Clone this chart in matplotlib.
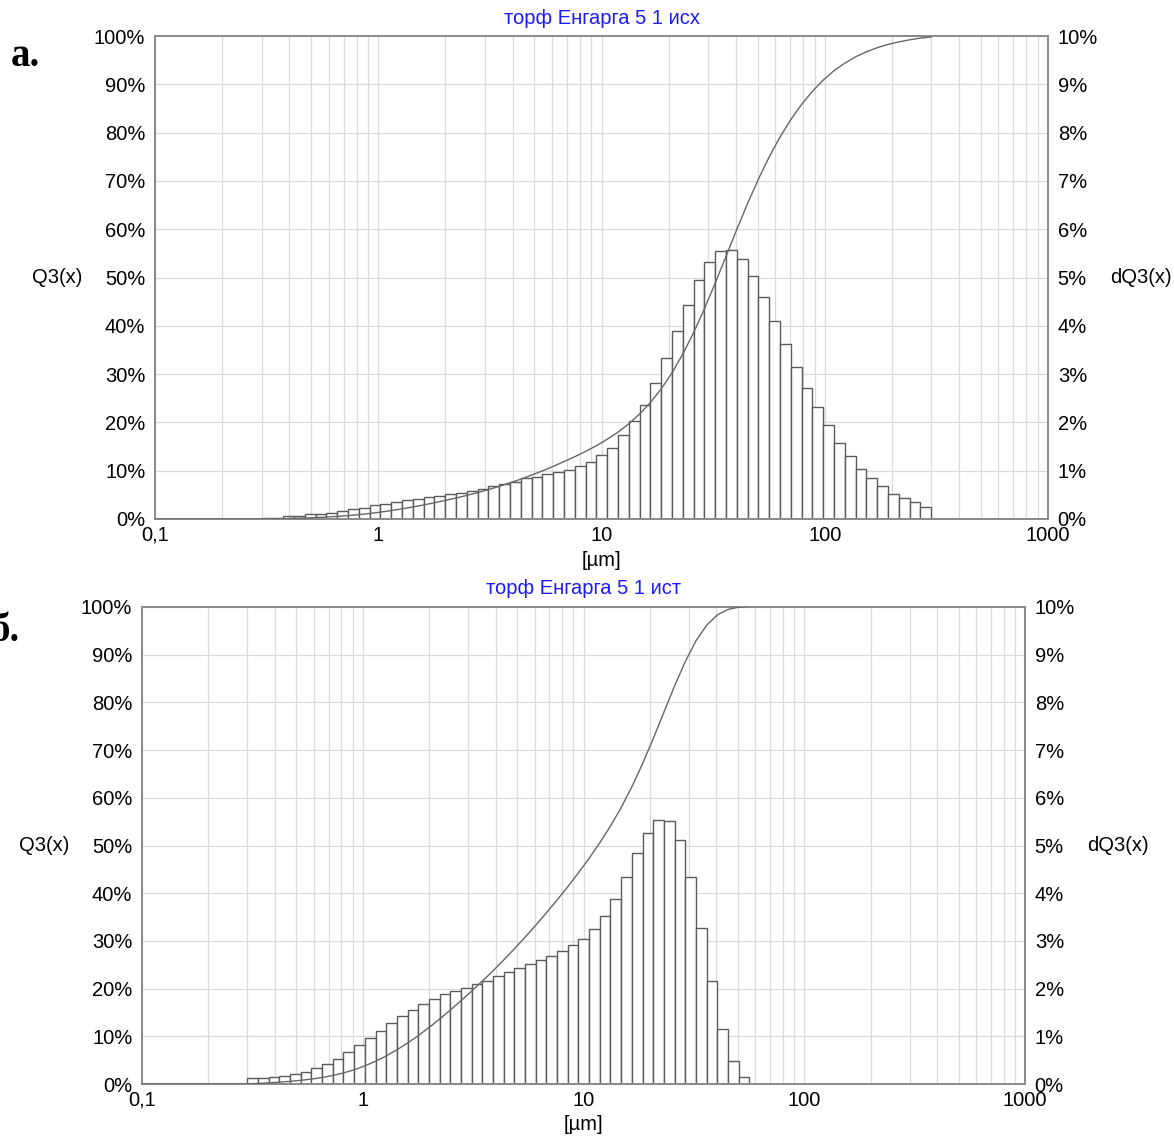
import numpy as np
import matplotlib
matplotlib.use("Agg")
import matplotlib.pyplot as plt
from matplotlib.ticker import FixedLocator, FuncFormatter, LogLocator, NullFormatter

plt.rcParams["font.family"] = ["Liberation Sans", "DejaVu Sans"]

# Particle-size classes (µm): logarithmic bins between these limits
size_min_um = 0.3
size_max_um = 300.0
n_classes = 62
class_edges = np.geomspace(size_min_um, size_max_um, n_classes + 1)

# Differential distribution dQ3(x), % per class (sample "исх")
dq3_initial = [0.03, 0.03, 0.07, 0.07, 0.10, 0.10, 0.13, 0.17, 0.21, 0.23,
               0.28, 0.32, 0.36, 0.39, 0.41, 0.46, 0.48, 0.51, 0.53, 0.58,
               0.62, 0.68, 0.72, 0.77, 0.84, 0.87, 0.94, 0.98, 1.02, 1.09,
               1.19, 1.32, 1.48, 1.73, 2.03, 2.37, 2.82, 3.33, 3.89, 4.43,
               4.95, 5.32, 5.54, 5.57, 5.39, 5.03, 4.60, 4.10, 3.62, 3.15,
               2.71, 2.32, 1.94, 1.57, 1.30, 1.04, 0.85, 0.68, 0.52, 0.43,
               0.35, 0.25]

# Differential distribution dQ3(x), % per class (sample "ист")
dq3_ground = [0.12, 0.12, 0.15, 0.17, 0.21, 0.26, 0.33, 0.42, 0.53, 0.67,
              0.82, 0.96, 1.12, 1.28, 1.42, 1.56, 1.68, 1.79, 1.89, 1.95,
              2.02, 2.10, 2.16, 2.26, 2.34, 2.44, 2.51, 2.61, 2.68, 2.79,
              2.91, 3.04, 3.25, 3.52, 3.88, 4.34, 4.84, 5.27, 5.53, 5.51,
              5.11, 4.34, 3.27, 2.16, 1.16, 0.48, 0.15]

titles = ["торф Енгарга 5 1 исх", "торф Енгарга 5 1 ист"]
panel_letters = ["а.", "б."]
x_tick_values = [0.1, 1, 10, 100, 1000]
x_tick_labels = ["0,1", "1", "10", "100", "1000"]

W, H = 1174, 1137
fig = plt.figure(figsize=(W / 100, H / 100), dpi=100)
fig.patch.set_facecolor("white")

FS = 14.5
SPINE = "#8c8c8c"
GRID = "#dadada"
EDGE = "#5a5a5a"


def px_rect(left, top, right, bottom):
    return [left / W, 1 - bottom / H, (right - left) / W, (bottom - top) / H]


def draw_panel(box, dq3, title, letter, letter_pos):
    left, top, right, bottom = box
    ax = fig.add_axes(px_rect(left, top, right, bottom))
    ax.set_xscale("log")
    ax.set_xlim(0.1, 1000)
    ax.set_ylim(0, 10)
    ax.set_axisbelow(True)

    n = len(dq3)
    widths = np.diff(class_edges)[:n]
    ax.bar(class_edges[:n], dq3, width=widths, align="edge",
           facecolor="white", edgecolor=EDGE, linewidth=1.0, zorder=2)

    # grid: every log sub-decade vertically, every 1 % (10 % on Q3) horizontally
    ax.xaxis.set_major_locator(FixedLocator(x_tick_values))
    ax.xaxis.set_minor_locator(LogLocator(base=10, subs=np.arange(2, 10)))
    ax.xaxis.set_major_formatter(FuncFormatter(
        lambda v, p: x_tick_labels[x_tick_values.index(v)]
        if v in x_tick_values else ""))
    ax.xaxis.set_minor_formatter(NullFormatter())
    ax.grid(True, which="both", axis="x", color=GRID, linewidth=0.9)
    ax.set_yticks(np.arange(0, 11, 1))
    ax.grid(True, which="major", axis="y", color=GRID, linewidth=0.9)
    ax.yaxis.set_major_formatter(FuncFormatter(lambda v, p: f"{v:.0f}%"))

    # cumulative curve Q3(x) on its own 0..100 % scale
    ax2 = ax.twinx()
    ax2.set_ylim(0, 100)
    q3 = np.concatenate([[0.0], np.cumsum(dq3)])
    xs = np.concatenate([[0.1], class_edges[:n + 1]])
    ys = np.concatenate([[0.0], q3])
    ax2.plot(xs, ys, color="#666666", linewidth=1.0, zorder=3, clip_on=True)
    ax2.set_yticks(np.arange(0, 101, 10))
    ax2.yaxis.set_major_formatter(FuncFormatter(lambda v, p: f"{v:.0f}%"))

    ax.yaxis.tick_right()
    ax2.yaxis.tick_left()

    for a in (ax, ax2):
        for s in a.spines.values():
            s.set_color(SPINE)
            s.set_linewidth(1.4)
        a.tick_params(axis="y", length=0, labelsize=FS, pad=7)
    ax.tick_params(axis="x", which="both", length=0, labelsize=FS, pad=5)

    cx = (left + right) / 2
    fig.text(cx / W, 1 - (top - 18) / H, title, color="#1a1aff",
             fontsize=FS, ha="center", va="center")
    fig.text(cx / W, 1 - (bottom + 41) / H, "[µm]", fontsize=FS,
             ha="center", va="center")
    mid = (top + bottom) / 2
    fig.text((left - 73) / W, 1 - mid / H, "Q3(x)", fontsize=FS,
             ha="right", va="center")
    fig.text((right + 62) / W, 1 - mid / H, "dQ3(x)", fontsize=FS,
             ha="left", va="center")
    fig.text(letter_pos[0] / W, 1 - letter_pos[1] / H, letter,
             family=["Liberation Serif", "DejaVu Serif"], fontweight="bold",
             fontsize=28, ha="right", va="baseline")


draw_panel((155, 36, 1048, 519), dq3_initial, titles[0], panel_letters[0], (40, 66))
draw_panel((142, 607, 1025, 1084), dq3_ground, titles[1], panel_letters[1], (20, 641))

fig.savefig("out.png", dpi=100, facecolor="white")
